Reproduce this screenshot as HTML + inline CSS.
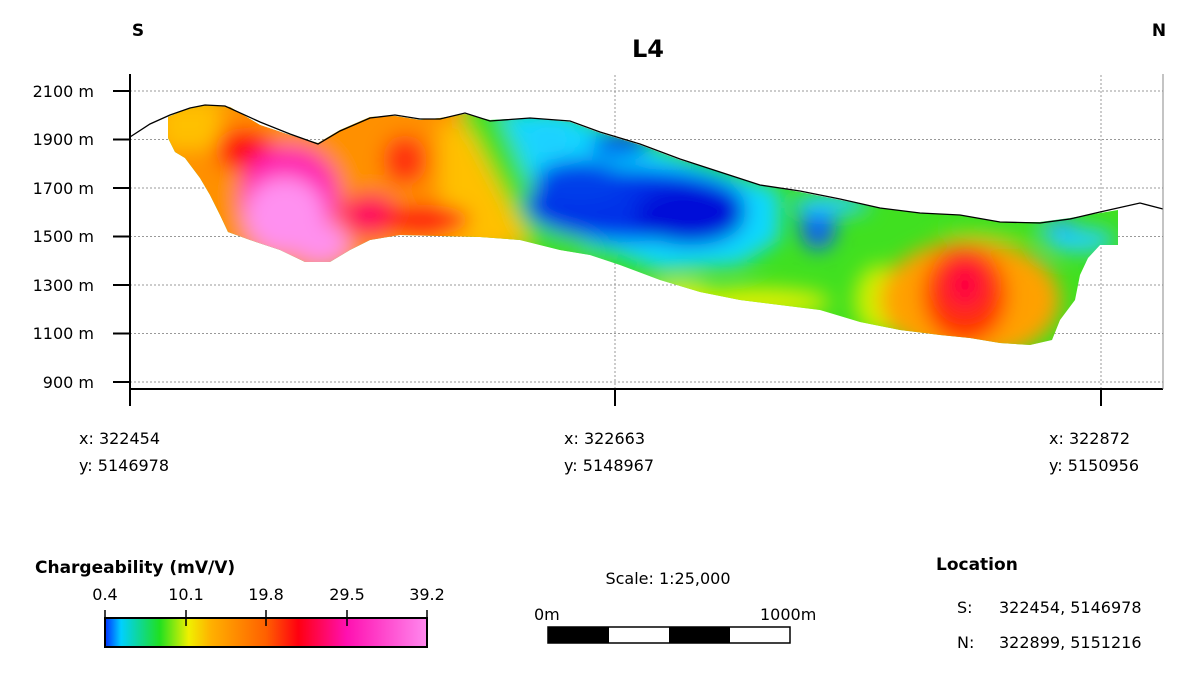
<!DOCTYPE html>
<html><head><style>
body{margin:0;background:#fff;width:1199px;height:679px;overflow:hidden;font-family:"DejaVu Sans","Liberation Sans",sans-serif}
</style></head><body>
<svg width="1199" height="679" viewBox="0 0 1199 679" xmlns="http://www.w3.org/2000/svg" font-family="DejaVu Sans, Liberation Sans, sans-serif">
<defs>
<filter id="bl" x="-20%" y="-20%" width="140%" height="140%"><feGaussianBlur stdDeviation="10"/></filter>
<clipPath id="cp"><polygon points="168,117 185,110 205,105 230,107 260,125 290,135 318,143 340,130 370,117 395,116 420,120 440,118 465,114 490,120 530,118 570,122 600,133 640,145 680,160 720,172 760,185 800,192 840,200 880,208 920,213 960,215 1000,222 1040,222 1070,218 1100,213 1118,210 1118,245 1100,245 1088,258 1080,275 1075,300 1060,320 1052,340 1030,345 1000,343 970,338 940,335 900,330 860,322 820,310 780,305 740,300 700,292 660,280 620,265 590,255 560,250 520,240 480,237 440,236 400,235 370,240 350,250 330,262 305,262 280,250 250,240 228,232 220,215 210,195 200,178 185,158 175,152 168,138"/></clipPath>
<linearGradient id="cb" x1="0" x2="1">
<stop offset="0" stop-color="#0030ff"/><stop offset="0.05" stop-color="#00d0ff"/><stop offset="0.17" stop-color="#20e020"/><stop offset="0.26" stop-color="#f0f000"/><stop offset="0.33" stop-color="#ffb000"/><stop offset="0.5" stop-color="#ff6000"/><stop offset="0.6" stop-color="#ff0010"/><stop offset="0.75" stop-color="#ff10b0"/><stop offset="1" stop-color="#ff88ee"/>
</linearGradient>
</defs>
<text x="138" y="36" font-size="17" font-weight="bold" text-anchor="middle">S</text>
<text x="1159" y="36" font-size="17" font-weight="bold" text-anchor="middle">N</text>
<text x="648" y="57" font-size="24" font-weight="bold" text-anchor="middle">L4</text>
<g stroke="#999" stroke-dasharray="2,2" stroke-width="1">
<line x1="130" y1="91" x2="1163" y2="91"/><line x1="130" y1="139.5" x2="1163" y2="139.5"/><line x1="130" y1="188" x2="1163" y2="188"/><line x1="130" y1="236.5" x2="1163" y2="236.5"/><line x1="130" y1="285" x2="1163" y2="285"/><line x1="130" y1="333.5" x2="1163" y2="333.5"/><line x1="130" y1="382" x2="1163" y2="382"/>
<line x1="615" y1="75" x2="615" y2="389"/><line x1="1101" y1="75" x2="1101" y2="389"/>
</g>
<g clip-path="url(#cp)">
<rect x="160" y="100" width="970" height="260" fill="#40e020"/>
<g filter="url(#bl)">
<polygon points="140,90 470,90 480,140 540,245 470,260 140,300" fill="#ff9000"/>
<polygon points="460,100 495,100 560,200 600,260 540,260 500,230 470,180" fill="#40e020"/>
<polygon points="440,120 470,130 530,245 480,250 440,240" fill="#ffc000"/>
<rect x="160" y="100" width="60" height="50" fill="#ffc000"/>
<ellipse cx="245" cy="150" rx="30" ry="22" fill="#ff1010"/>
<ellipse cx="290" cy="195" rx="50" ry="50" fill="#ff20b0"/>
<ellipse cx="285" cy="215" rx="40" ry="38" fill="#ff90f0"/>
<ellipse cx="320" cy="243" rx="28" ry="20" fill="#ff90ee"/>
<ellipse cx="370" cy="215" rx="30" ry="22" fill="#ff1060"/>
<ellipse cx="405" cy="160" rx="22" ry="25" fill="#ff3010"/>
<ellipse cx="425" cy="220" rx="45" ry="15" fill="#ff1010"/>
<polygon points="500,110 560,110 660,150 780,190 780,240 740,265 660,270 590,245 530,180" fill="#10d8ff"/>
<ellipse cx="635" cy="205" rx="110" ry="36" fill="#0030e8"/>
<ellipse cx="690" cy="215" rx="55" ry="30" fill="#0008d8"/>
<ellipse cx="580" cy="180" rx="45" ry="20" fill="#0040ea"/>
<ellipse cx="550" cy="140" rx="25" ry="14" fill="#20d0ff"/>
<ellipse cx="620" cy="145" rx="30" ry="12" fill="#0050ee"/>
<ellipse cx="818" cy="225" rx="18" ry="25" fill="#1060f0"/>
<ellipse cx="830" cy="205" rx="40" ry="10" fill="#20d0ff"/>
<ellipse cx="760" cy="302" rx="70" ry="14" fill="#e0f000"/>
<ellipse cx="680" cy="292" rx="30" ry="10" fill="#f0f000"/>
<ellipse cx="880" cy="300" rx="25" ry="35" fill="#d0f000"/>
<ellipse cx="970" cy="300" rx="90" ry="60" fill="#ffa000"/>
<ellipse cx="965" cy="295" rx="42" ry="48" fill="#ff3000"/>
<ellipse cx="965" cy="285" rx="20" ry="25" fill="#ff0040"/>
<ellipse cx="1000" cy="228" rx="60" ry="10" fill="#40e020"/>
<ellipse cx="1080" cy="240" rx="35" ry="12" fill="#20d0ff"/>
<ellipse cx="1060" cy="225" rx="15" ry="6" fill="#20a0ff"/>
</g>
</g>
<polyline fill="none" stroke="#000" stroke-width="1.3" points="130,137 150,124 170,115 190,108 205,105 225,106 260,122 290,134 318,144 340,131 370,118 395,115 420,119 440,119 465,113 490,121 530,118 570,121 600,132 640,144 680,159 720,172 760,185 800,191 840,199 880,208 920,213 960,215 1000,222 1040,223 1070,219 1100,212 1140,203 1163,209"/>
<g stroke="#000" stroke-width="2" fill="none">
<line x1="130" y1="74" x2="130" y2="406"/>
<line x1="130" y1="389" x2="1163" y2="389"/>
<line x1="1163" y1="74" x2="1163" y2="389" stroke-width="1" stroke="#888"/>
<line x1="615" y1="389" x2="615" y2="406"/><line x1="1101" y1="389" x2="1101" y2="406"/>
<line x1="113" y1="91" x2="130" y2="91"/><line x1="113" y1="139.5" x2="130" y2="139.5"/><line x1="113" y1="188" x2="130" y2="188"/><line x1="113" y1="236.5" x2="130" y2="236.5"/><line x1="113" y1="285" x2="130" y2="285"/><line x1="113" y1="333.5" x2="130" y2="333.5"/><line x1="113" y1="382" x2="130" y2="382"/>
</g>
<g font-size="16" text-anchor="end">
<text x="94" y="97">2100 m</text><text x="94" y="145">1900 m</text><text x="94" y="194">1700 m</text><text x="94" y="242">1500 m</text><text x="94" y="291">1300 m</text><text x="94" y="339">1100 m</text><text x="94" y="388">900 m</text>
</g>
<g font-size="16">
<text x="79" y="444">x: 322454</text><text x="79" y="471">y: 5146978</text>
<text x="564" y="444">x: 322663</text><text x="564" y="471">y: 5148967</text>
<text x="1049" y="444">x: 322872</text><text x="1049" y="471">y: 5150956</text>
</g>
<text x="35" y="573" font-size="17" font-weight="bold">Chargeability (mV/V)</text>
<g font-size="16" text-anchor="middle">
<text x="105" y="600">0.4</text><text x="186" y="600">10.1</text><text x="266" y="600">19.8</text><text x="347" y="600">29.5</text><text x="427" y="600">39.2</text>
</g>
<rect x="105" y="618" width="322" height="29" fill="url(#cb)" stroke="#000" stroke-width="2"/>
<g stroke="#000" stroke-width="1.5"><line x1="105" y1="610" x2="105" y2="618"/><line x1="186" y1="610" x2="186" y2="626"/><line x1="266" y1="610" x2="266" y2="626"/><line x1="347" y1="610" x2="347" y2="626"/><line x1="427" y1="610" x2="427" y2="618"/></g>
<text x="668" y="584" font-size="16" text-anchor="middle">Scale: 1:25,000</text>
<text x="534" y="620" font-size="16">0m</text><text x="760" y="620" font-size="16">1000m</text>
<rect x="548" y="627" width="242" height="16" fill="#fff" stroke="#000" stroke-width="1.5"/>
<rect x="548" y="627" width="61" height="16" fill="#000"/><rect x="669" y="627" width="61" height="16" fill="#000"/>
<text x="936" y="570" font-size="17" font-weight="bold">Location</text>
<g font-size="16"><text x="957" y="613">S:</text><text x="999" y="613">322454, 5146978</text><text x="957" y="648">N:</text><text x="999" y="648">322899, 5151216</text></g>
</svg>
</body></html>
